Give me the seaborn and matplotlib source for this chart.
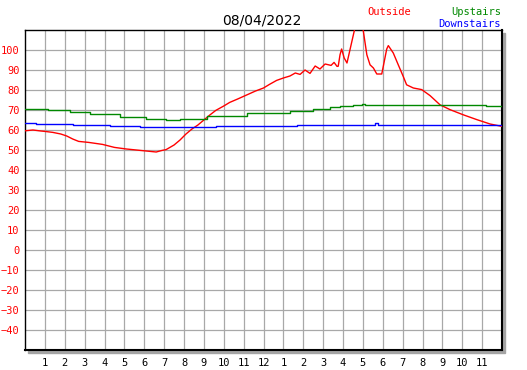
import numpy as np
import pandas as pd
import matplotlib
matplotlib.use("Agg")
import matplotlib.pyplot as plt
from matplotlib.patches import Rectangle
import seaborn as sns

# --------------------
# Data (hours since midnight, degrees)
# --------------------
title = "08/04/2022"

outside_hours = [0.0, 0.4, 0.8, 1.0, 1.4, 1.8, 2.1, 2.4, 2.7, 3.2, 3.9, 4.5, 5.1, 5.6,
                 6.1, 6.6, 6.9, 7.1, 7.5, 7.8, 8.1, 8.4, 8.7, 9.0, 9.3, 9.6, 10.0,
                 10.3, 10.7, 11.15, 11.6, 12.0, 12.3, 12.66, 13.0, 13.33, 13.6, 13.84,
                 14.09, 14.34, 14.6, 14.84, 15.1, 15.4, 15.55, 15.7, 15.76, 15.85,
                 15.93, 16.06, 16.2, 16.6, 17.0, 17.2, 17.36, 17.53, 17.7, 17.95,
                 18.03, 18.2, 18.28, 18.53, 18.78, 19.03, 19.2, 19.54, 19.96, 20.38,
                 20.88, 21.38, 22.05, 22.73, 23.4, 24.0]
outside_temps = [59.6, 60.0, 59.5, 59.3, 58.8, 58.0, 57.0, 55.5, 54.3, 53.8, 52.8, 51.3,
                 50.5, 50.0, 49.5, 49.0, 49.8, 50.2, 52.5, 55.0, 58.0, 60.5, 62.5,
                 65.0, 67.5, 69.8, 72.0, 73.8, 75.5, 77.5, 79.5, 81.0, 82.8, 84.8,
                 86.0, 87.0, 88.5, 87.8, 90.0, 88.3, 92.0, 90.5, 93.0, 92.3, 93.8,
                 91.8, 91.9, 97.6, 100.5, 96.0, 93.5, 111.0, 111.0, 97.6, 92.6,
                 91.0, 88.0, 88.0, 92.0, 100.5, 102.2, 98.5, 92.6, 86.8, 82.6, 81.0,
                 80.2, 77.2, 72.6, 70.2, 67.6, 65.2, 63.0, 61.8]

upstairs_hours = [0.0, 1.17, 2.26, 3.27, 4.8, 6.1, 7.1, 7.8, 9.14, 11.15, 13.33,
                  14.5, 15.35, 15.85, 16.5, 16.94, 17.1, 23.2, 24.0]
upstairs_temps = [70.5, 70.0, 69.0, 68.0, 66.5, 65.5, 65.0, 65.5, 66.8, 68.5, 69.3,
                  70.5, 71.5, 72.2, 72.3, 73.0, 72.5, 72.0, 72.0]

downstairs_hours = [0.0, 0.55, 2.43, 4.3, 5.8, 9.6, 13.67, 17.45, 17.6, 17.75, 24.0]
downstairs_temps = [63.5, 63.0, 62.5, 62.0, 61.5, 62.0, 62.5, 62.5, 63.5, 62.5, 62.5]

hour_ticks = list(range(1, 24))
hour_labels = [str(h) for h in range(1, 13)] + [str(h) for h in range(1, 12)]
temp_ticks = list(range(-40, 101, 10))

series = [
    ("Outside", outside_hours, outside_temps, "#ff0000", None),
    ("Upstairs", upstairs_hours, upstairs_temps, "#008800", "steps-post"),
    ("Downstairs", downstairs_hours, downstairs_temps, "#0000ff", "steps-post"),
]

# --------------------
# Plot
# --------------------
sns.set_style("white")
plt.rcParams["font.family"] = ["DejaVu Sans Mono"]

W, H = 527, 370
fig = plt.figure(figsize=(W / 100, H / 100), dpi=100)
x0, x1, y0, y1 = 25, 502, 30, 350  # plot area in pixels
ax = fig.add_axes([x0 / W, 1 - y1 / H, (x1 - x0) / W, (y1 - y0) / H])

# drop shadow behind the plot frame
fig.patches.append(Rectangle(((x0 + 3) / W, 1 - (y1 + 3) / H), (x1 - x0) / W,
                             (y1 - y0) / H, transform=fig.transFigure,
                             color="#a4a4a4", zorder=-5))

for name, hrs, temps, color, ds in series:
    df = pd.DataFrame({"hour": hrs, "temp": temps})
    kw = {"drawstyle": ds} if ds else {}
    sns.lineplot(data=df, x="hour", y="temp", ax=ax, color=color, lw=1.0,
                 estimator=None, sort=False, legend=False, zorder=3, **kw)

ax.set_xlim(0, 24)
ax.set_ylim(-50, 110)
ax.set_xticks(hour_ticks)
ax.set_xticklabels(hour_labels)
ax.set_yticks(temp_ticks)
ax.set_xlabel("")
ax.set_ylabel("")
ax.grid(True, color="#a8a8a8", lw=0.9)
ax.set_axisbelow(True)
ax.tick_params(axis="both", direction="in", length=3.5, width=1.0, color="black",
               labelsize=7.5)
ax.tick_params(axis="y", labelcolor="#ff0000", pad=4)
ax.tick_params(axis="x", labelcolor="black", pad=6)
for sp in ax.spines.values():
    sp.set_color("black")
    sp.set_linewidth(1.0)
ax.spines["bottom"].set_linewidth(1.5)
ax.spines["right"].set_linewidth(1.5)

fig.text(262 / W, 1 - 25 / H, title, ha="center", va="baseline", fontsize=10,
         family="DejaVu Sans", color="black")
fig.text(411 / W, 1 - 15 / H, "Outside", ha="right", va="baseline", fontsize=7.5,
         color="#ff0000")
fig.text(501 / W, 1 - 15 / H, "Upstairs", ha="right", va="baseline", fontsize=7.5,
         color="#008800")
fig.text(501 / W, 1 - 27 / H, "Downstairs", ha="right", va="baseline", fontsize=7.5,
         color="#0000ff")

fig.savefig("out.png", dpi=100)
